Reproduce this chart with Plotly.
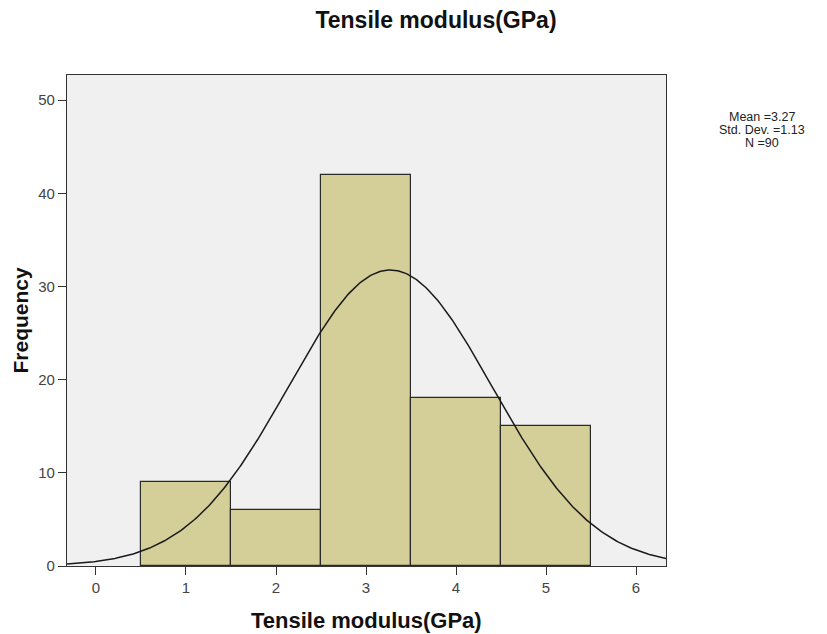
import numpy as np
import plotly.graph_objects as go

# Data
bin_centers = [1, 2, 3, 4, 5]
frequencies = [9, 6, 42, 18, 15]
bin_width = 1.0
mean_val = 3.27
std_val = 1.13
n_val = 90
x_ticks = [0, 1, 2, 3, 4, 5, 6]
y_ticks = [0, 10, 20, 30, 40, 50]

x_range = [-0.322, 6.333]
y_range = [0, 52.7]

# Fitted normal curve (from the reported mean, SD and N)
xc = np.linspace(x_range[0], x_range[1], 400)
yc = n_val * bin_width / (std_val * np.sqrt(2 * np.pi)) * np.exp(-0.5 * ((xc - mean_val) / std_val) ** 2)

fig = go.Figure()
fig.add_trace(go.Bar(
    x=bin_centers, y=frequencies, width=[bin_width] * len(bin_centers),
    marker=dict(color="#D4CE98", line=dict(color="#2a2a2a", width=1.2)),
    showlegend=False, hoverinfo="x+y",
))
fig.add_trace(go.Scatter(
    x=xc, y=yc, mode="lines", line=dict(color="#1a1a1a", width=1.5),
    showlegend=False, hoverinfo="skip",
))

font_family = "Liberation Sans, Arial, sans-serif"
W, H = 819, 626

fig.update_layout(
    width=W, height=H,
    margin=dict(l=59, r=161, t=67, b=68),
    paper_bgcolor="white",
    plot_bgcolor="#F0F0F0",
    font=dict(family=font_family, color="#444444"),
    title=dict(text="<b>Tensile modulus(GPa)</b>", x=(436 - 8) / W, xanchor="center",
               y=1 - 12 / H, yanchor="middle",
               font=dict(size=23, color="#111111", family=font_family)),
    bargap=0,
    xaxis=dict(
        range=x_range, tickvals=x_ticks, ticktext=[str(v) for v in x_ticks],
        showgrid=False, zeroline=False,
        showline=True, linecolor="#333333", linewidth=1.2, mirror=True,
        ticks="outside", ticklen=8, tickcolor="#333333", tickwidth=1.2,
        tickfont=dict(size=15, color="#444444"),
    ),
    yaxis=dict(
        range=y_range, tickvals=y_ticks, ticktext=[str(v) for v in y_ticks],
        showgrid=False, zeroline=False,
        showline=True, linecolor="#333333", linewidth=1.2, mirror=True,
        ticks="outside", ticklen=8, tickcolor="#333333", tickwidth=1.2,
        tickfont=dict(size=15, color="#444444"),
    ),
)

# Axis titles
fig.add_annotation(
    xref="paper", yref="paper", x=0.5, y=0, yshift=-54,
    text="<b>Tensile modulus(GPa)</b>", showarrow=False,
    xanchor="center", yanchor="middle",
    font=dict(size=22, color="#111111", family=font_family),
)
fig.add_annotation(
    xref="paper", yref="paper", x=0, y=0.5, xshift=-47,
    text="<b>Frequency</b>", showarrow=False, textangle=-90,
    xanchor="center", yanchor="middle",
    font=dict(size=21, color="#111111", family=font_family),
)

# Stats box (three lines, tight spacing)
stats_lines = [f"Mean ={mean_val:.2f}", f"Std. Dev. ={std_val:.2f}", f"N ={n_val}"]
for i, line in enumerate(stats_lines):
    fig.add_annotation(
        xref="paper", yref="paper", x=1, y=1, xshift=96, yshift=-42 - 13 * i,
        text=line, showarrow=False, align="center", xanchor="center", yanchor="middle",
        font=dict(size=12.5, color="#222222", family=font_family),
    )

fig.write_html("out.html")
